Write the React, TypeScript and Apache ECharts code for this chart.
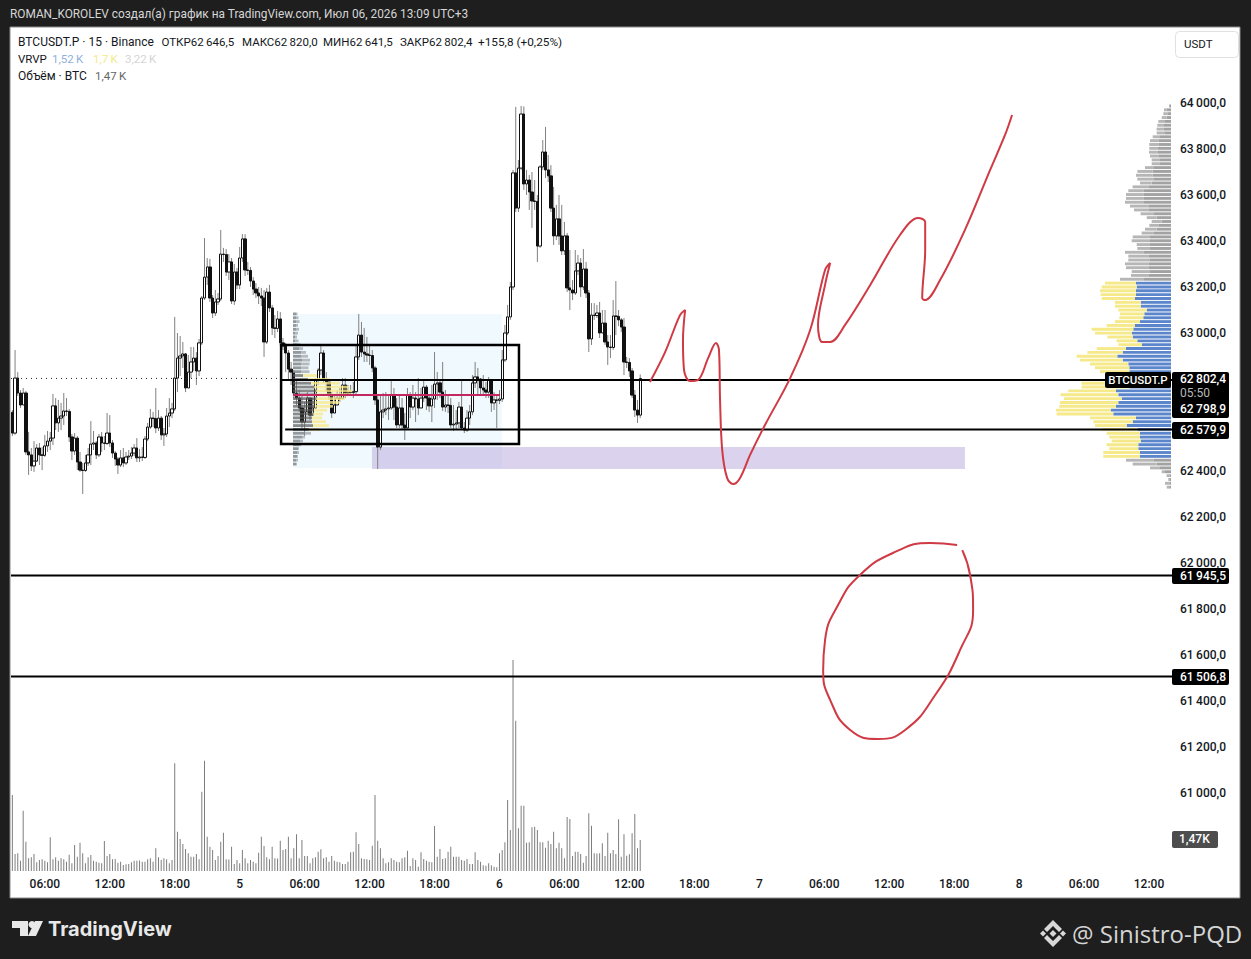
import React, { useEffect, useRef } from "react";
import * as echarts from "echarts";

const firstOpen = 62655;
const closes = [62565,62804,62739,62687,62739,62483,62470,62422,62443,62500,62470,62468,62509,62530,62543,62683,62609,62630,62639,62661,62659,62548,62487,62543,62439,62404,62402,62435,62470,62517,62522,62470,62548,62522,62520,62565,62522,62478,62452,62426,62457,62435,62461,62465,62478,62500,62457,62461,62459,62539,62591,62630,62628,62587,62630,62557,62561,62639,62652,62670,62804,62891,62900,62909,62761,62830,62874,62891,62835,62957,63152,63243,63287,63152,63087,63135,63148,63343,63341,63265,63309,63139,63265,63209,63326,63409,63274,63272,63226,63191,63174,63161,63152,62961,63178,63109,63022,63020,63061,62957,62943,62913,62843,62830,62739,62717,62674,62613,62657,62717,62643,62674,62796,62839,62913,62796,62787,62730,62652,62687,62717,62715,62774,62739,62743,62741,62745,62896,62991,62917,62909,62904,62902,62848,62709,62504,62657,62665,62670,62674,62730,62678,62600,62674,62600,62587,62730,62678,62717,62713,62674,62717,62765,62717,62683,62713,62778,62783,62743,62678,62687,62685,62600,62604,62609,62678,62587,62578,62630,62657,62783,62809,62800,62761,62752,62743,62796,62696,62709,62707,62713,62883,63000,63070,63200,63696,63543,63717,63952,63648,63665,63613,63574,63572,63378,63722,63787,63709,63683,63543,63422,63496,63422,63357,63422,63196,63187,63174,63270,63304,63200,63278,63174,62974,63078,63076,63087,63000,63043,62961,62939,62937,63074,63072,63057,63026,62874,62872,62835,62730,62665,62643,62802.4];
const highs = [62665,62926,62830,62752,62761,62748,62570,62500,62530,62517,62522,62504,62557,62574,62570,62735,62717,62709,62696,62739,62717,62670,62561,62565,62552,62483,62435,62470,62500,62617,62574,62530,62561,62570,62552,62652,62643,62535,62487,62461,62491,62500,62483,62491,62504,62517,62543,62496,62504,62552,62609,62670,62657,62761,62665,62639,62587,62674,62717,62696,63070,63000,62987,62961,62913,62904,62939,62939,62917,62974,63161,63413,63326,63322,63165,63187,63174,63448,63370,63365,63343,63326,63300,63283,63374,63430,63430,63309,63287,63243,63217,63200,63196,63187,63196,63209,63122,63078,63096,63091,62978,62957,62926,62874,62839,62796,62752,62730,62700,62743,62709,62717,62804,62848,62943,62926,62830,62787,62743,62726,62752,62761,62804,62804,62774,62774,62787,62948,63083,63048,63022,62983,62948,62926,62857,62730,62730,62739,62743,62726,62791,62761,62717,62730,62717,62652,62761,62743,62774,62743,62804,62761,62796,62774,62730,62774,62917,62830,62796,62874,62752,62730,62717,62687,62665,62700,62796,62613,62665,62687,62817,62874,62848,62804,62817,62787,62809,62796,62743,62730,62752,62926,63035,63122,63222,63709,63983,63752,63987,63985,63709,63687,63700,63665,63600,63730,63839,63896,63774,63730,63635,63557,63600,63557,63483,63435,63361,63230,63361,63339,63326,63365,63309,63187,63130,63130,63122,63135,63100,63100,62991,62991,63143,63226,63100,63065,63065,62896,62891,62848,62752,62709,62820];
const lows = [62552,62557,62726,62674,62709,62470,62383,62400,62396,62439,62426,62404,62461,62483,62491,62513,62578,62570,62578,62600,62639,62526,62448,62470,62404,62396,62300,62396,62422,62426,62491,62452,62461,62483,62491,62513,62504,62457,62422,62387,62417,62417,62426,62448,62452,62465,62439,62439,62443,62452,62530,62583,62591,62565,62574,62535,62509,62548,62591,62630,62661,62743,62813,62848,62743,62778,62804,62835,62774,62813,62948,63143,63209,63135,63065,63074,63122,63139,63309,63248,63230,63126,63122,63191,63191,63309,63248,63252,63200,63165,63152,63126,63117,62896,62952,63091,62991,62978,63004,62943,62926,62830,62796,62774,62717,62687,62657,62587,62552,62657,62622,62643,62709,62774,62817,62783,62743,62709,62630,62665,62687,62700,62726,62717,62726,62726,62717,62735,62883,62896,62874,62874,62861,62830,62687,62409,62491,62630,62643,62622,62665,62622,62587,62587,62578,62535,62587,62630,62665,62613,62643,62674,62700,62665,62657,62613,62674,62709,62717,62661,62657,62652,62587,62574,62578,62587,62578,62565,62570,62600,62643,62761,62730,62730,62726,62717,62717,62657,62665,62587,62691,62700,62874,62991,63057,63187,63526,63526,63709,63622,63600,63535,63457,63535,63309,63370,63709,63674,63656,63526,63383,63404,63383,63339,63339,63178,63100,63143,63165,63252,63157,63187,63152,62917,62948,63057,63065,62978,63013,62948,62861,62891,62926,62991,63030,63004,62817,62848,62809,62717,62635,62609,62630];
const volumes = [3602,806,837,490,2860,1390,600,648,806,411,521,553,490,411,1596,553,648,490,600,553,442,774,363,1232,679,1343,837,363,648,758,490,442,395,363,1422,711,806,553,569,395,442,284,316,332,411,490,488,492,442,440,553,600,442,1074,648,521,600,553,363,521,5103,1864,1517,1280,1043,837,679,677,806,553,3760,5230,1627,1153,995,521,711,1390,1817,553,551,1153,332,521,363,995,600,363,521,442,363,869,1627,1185,648,553,1153,600,598,1438,995,1043,1627,600,1074,1738,600,1469,711,709,363,600,648,916,1027,600,648,442,711,490,442,411,332,330,442,885,916,1833,1280,600,569,553,521,1201,3602,1438,1074,600,363,411,600,521,442,411,600,648,964,237,600,521,205,885,569,490,442,411,2133,679,1043,569,600,916,1153,679,680,677,521,490,569,332,330,885,521,442,269,253,363,269,205,174,837,995,1359,3365,1943,10001,7126,2022,3097,3097,1343,1359,2070,2101,1943,1359,1357,1106,1438,1280,1864,1074,1343,1074,600,2560,2465,711,916,918,806,395,711,2733,2149,837,835,839,1311,711,1817,837,995,806,2449,679,1738,727,790,1785,2702,1074,1470];

const timeLabels = ["06:00","12:00","18:00","5","06:00","12:00","18:00","6","06:00","12:00","18:00","7","06:00","12:00","18:00","8","06:00","12:00"];
const priceTicks = [61000,61200,61400,61600,61800,62000,62200,62400,63000,63200,63400,63600,63800,64000];

const profileTop = 63987;
const profileStep = 16.74;
const profileUp = [10,43,37,43,60,77,77,60,110,127,127,137,137,127,110,110,170,183,183,177,193,227,277,277,277,270,227,227,177,143,93,127,143,177,210,210,210,210,277,227,210,227,227,210,227,277,350,343,350,350,360,303,303,243,267,277,310,360,377,393,383,337,293,450,483,537,483,427,417,417,410,410,417,417,550,527,493,527,550,603,577,350,383,443,337,310,310,303,327,327,310,310,177,143,110,60,17,10,17,10];
const profileDown = [10,27,40,50,67,60,67,83,73,83,90,80,83,83,83,83,90,153,167,160,117,157,150,173,173,190,183,143,127,100,100,90,117,117,173,183,133,127,183,200,217,233,223,183,173,233,310,350,360,353,333,257,257,283,243,240,250,283,417,367,253,207,233,293,353,407,427,383,343,293,250,250,477,477,477,577,577,583,567,547,567,460,393,317,357,333,307,290,317,290,367,367,273,240,100,33,27,17,43,33];
const profileVaFirst = 46;
const profileVaLast = 91;

const rangeTop = 63083;
const rangeStep = 16.74;
const rangeUp = [30,30,35,30,30,25,20,25,45,60,80,80,90,85,80,85,100,150,180,210,230,230,230,220,220,210,200,190,190,200,160,120,90,70,60,50,40,40,30,30];
const rangeDown = [15,25,30,20,30,25,20,30,30,40,50,70,80,80,75,80,140,220,290,350,360,360,290,250,180,130,100,100,140,160,100,60,30,30,20,10,20,10,20,10];
const rangeVaFirst = 16;
const rangeVaLast = 30;

const curveUp = [[235.6,62787],[241.2,62917],[246.7,63078],[248.6,63100],[247.8,62970],[248.2,62839],[250.4,62791],[253.4,62796],[257.1,62891],[260,62957],[261.1,62926],[261.5,62709],[262.3,62491],[264.1,62370],[266.3,62343],[268.9,62370],[272.6,62470],[278.1,62600],[287.4,62804],[294.8,63013],[300.3,63274],[302.2,63304],[300.3,63209],[297.7,63035],[299.2,62961],[302.2,62961],[307.7,63035],[317,63209],[328,63426],[334.7,63500],[337.3,63483],[337.3,63361],[336.2,63152],[337.3,63143],[342.8,63230],[352,63448],[361.3,63709],[366.8,63861],[369.4,63948]];
const curveCircle = [[349.1,62078],[339.1,62087],[326.2,62048],[313.2,61948],[305.1,61817],[300.3,61665],[299.6,61535],[302.2,61404],[309.6,61274],[319.9,61235],[329.9,61274],[341,61426],[350.2,61622],[355,61796],[353.9,61948],[351,62056]];

const levelPrices = [62796,62579.9,61945.5,61506.8];
const levelStarts = [99.3,100.8,-0.5,-0.5];
const barCount = 429;

const fmt = (v: number) => {
  const [a, b] = v.toFixed(1).split(".");
  return a.slice(0, -3) + "\u2009" + a.slice(-3) + "," + b;
};

const categories: string[] = new Array(barCount).fill("");
timeLabels.forEach((t, i) => { categories[12 + 24 * i] = t; });

const opens = closes.map((_, i) => (i === 0 ? firstOpen : closes[i - 1]));
const candleData = closes.map((c, i) => {
  const lo = Math.min(opens[i], c), hi = Math.max(opens[i], c);
  return [opens[i], c, lo, hi];
});
const wickData = closes.map((c, i) => [i, Math.min(lows[i], opens[i], c), Math.max(highs[i], opens[i], c)]);

const FONT = "Roboto, 'Noto Sans', sans-serif";
const txt = (text: string, x: number, y: number, fill: string, size = 12, extra: any = {}) => ({
  type: "text", x, y, z: 100,
  style: { text, fill, font: `${extra.weight || 400} ${size}px ${extra.family || FONT}`, textAlign: extra.align || "left", textVerticalAlign: "middle" },
});
const box = (x: number, y: number, w: number, h: number, fill: string, r = 2, stroke?: string) => ({
  type: "rect", z: 99, shape: { x, y, width: w, height: h, r }, style: stroke ? { fill, stroke, lineWidth: 1 } : { fill },
});
const poly = (points: number[][], fill: string) => ({ type: "polygon", z: 100, shape: { points }, style: { fill } });

const GRID = { left: 11, top: 27, width: 1161, height: 846 };
const YMIN = 60652.2, YMAX = 64330.4;
const hiddenY = (gridIndex: number) => ({ type: "value", gridIndex, min: YMIN, max: YMAX, show: false, scale: true });

export default function App() {
  const ref = useRef<HTMLDivElement>(null);
  useEffect(() => {
    document.body.style.margin = "0";
    const chart = echarts.init(ref.current!, null, { renderer: "svg" });

    const profileItem = (up: string, down: string, vaUp: string, vaDown: string, vaFirst: number, vaLast: number, h: number) =>
      (params: any, api: any) => {
        const i = params.dataIndex;
        const price = api.value(0), u = api.value(1), d = api.value(2);
        const p0 = api.coord([0, price]);
        const p1 = api.coord([u, price]);
        const p2 = api.coord([u + d, price]);
        const inVa = i >= vaFirst && i <= vaLast;
        const y = p0[1] - h / 2;
        return {
          type: "group",
          children: [
            { type: "rect", shape: { x: Math.min(p0[0], p1[0]), y, width: Math.abs(p1[0] - p0[0]), height: h }, style: { fill: inVa ? vaUp : up } },
            { type: "rect", shape: { x: Math.min(p1[0], p2[0]), y, width: Math.abs(p2[0] - p1[0]), height: h }, style: { fill: inVa ? vaDown : down } },
          ],
        };
      };

    const rectSeries = (name: string, rows: number[][], fill: string, z: number, stroke?: string, lw = 0) => ({
      type: "custom", name, xAxisIndex: 2, yAxisIndex: 2, z, silent: true, clip: false, data: rows,
      renderItem: (_: any, api: any) => {
        const a = api.coord([api.value(0), api.value(1)]);
        const b = api.coord([api.value(2), api.value(3)]);
        return { type: "rect", shape: { x: a[0], y: a[1], width: b[0] - a[0], height: b[1] - a[1] }, style: { fill, stroke, lineWidth: lw } };
      },
    });

    chart.setOption({
      animation: false,
      backgroundColor: "#1e1e1e",
      grid: [
        { ...GRID },
        { left: 11, top: 621, width: 1161, height: 250 },
        { ...GRID },
        { left: 10, top: 27, width: 1161, height: 846 },
        { left: 293, top: 27, width: 879, height: 846 },
      ],
      xAxis: [
        { type: "category", gridIndex: 0, data: categories, boundaryGap: true, axisLine: { show: false }, axisTick: { show: false }, splitLine: { show: false },
          axisLabel: { interval: (_: number, v: string) => v !== "", color: "#131722", fontFamily: FONT, fontSize: 12, fontWeight: 500, margin: 5, hideOverlap: false } },
        { type: "category", gridIndex: 1, data: categories, boundaryGap: true, show: false },
        { type: "value", gridIndex: 2, min: -0.5, max: 428.5, show: false },
        { type: "value", gridIndex: 3, min: 0, max: 11610, inverse: true, show: false },
        { type: "value", gridIndex: 4, min: 0, max: 8790, show: false },
      ],
      yAxis: [
        { type: "value", gridIndex: 0, position: "right", min: YMIN, max: YMAX, axisLine: { show: false }, axisTick: { show: false }, splitLine: { show: false },
          axisLabel: { customValues: priceTicks, color: "#131722", fontFamily: FONT, fontSize: 12, fontWeight: 500, margin: 8, formatter: (v: number) => fmt(v) } },
        { type: "value", gridIndex: 1, min: 0, max: 11850, show: false },
        hiddenY(2), hiddenY(3), hiddenY(4),
      ],
      graphic: {
        elements: [
          { type: "rect", z: -10, shape: { x: 10, y: 27, width: 1230, height: 871 }, style: { fill: "#ffffff", stroke: "#8a8a8a", lineWidth: 1 } },
          txt("ROMAN_KOROLEV создал(а) график на TradingView.com, Июл 06, 2026 13:09 UTC+3", 10, 14, "#d6d6d6", 11.85),
          txt("BTCUSDT.P · 15 · Binance", 18, 42, "#131722", 12),
          txt("ОТКР62\u2009646,5", 161.5, 42, "#131722", 11.5),
          txt("МАКС62\u2009820,0", 242, 42, "#131722", 11.5),
          txt("МИН62\u2009641,5", 323, 42, "#131722", 11.5),
          txt("ЗАКР62\u2009802,4", 400, 42, "#131722", 11.5),
          txt("+155,8 (+0,25%)", 478, 42, "#131722", 11.8),
          txt("VRVP", 18, 59, "#131722", 11.5),
          txt("1,52\u2009K", 52, 59, "#8fb0dc", 11.5),
          txt("1,7\u2009K", 93, 59, "#f4e98a", 11.5),
          txt("3,22\u2009K", 125, 59, "#d4d4d4", 11.5),
          txt("Объём · BTC", 18, 76, "#131722", 12),
          txt("1,47\u2009K", 95, 76, "#666666", 11.5),
          box(1175.5, 31.5, 63, 26, "#ffffff", 4, "#e0e0e0"),
          txt("USDT", 1184, 44, "#131722", 11.5),

          box(1105, 372, 66, 16, "#000000"),
          txt("BTCUSDT.P", 1138, 380, "#ffffff", 11.5, { align: "center", weight: 500 }),
          box(1172, 372, 57, 46, "#000000"),
          txt(fmt(62802.4), 1180, 379, "#ffffff", 12, { weight: 500 }),
          txt("05:50", 1180, 393, "#b8b8b8", 12),
          txt(fmt(62798.9), 1180, 409, "#ffffff", 12, { weight: 500 }),
          box(1172, 422, 57, 17, "#000000"),
          txt(fmt(62579.9), 1180, 430, "#ffffff", 12, { weight: 500 }),
          box(1172, 568, 57, 16, "#000000"),
          txt(fmt(61945.5), 1180, 576, "#ffffff", 12, { weight: 500 }),
          box(1172, 669, 57, 16, "#000000"),
          txt(fmt(61506.8), 1180, 677, "#ffffff", 12, { weight: 500 }),
          box(1172, 831, 46, 17, "#4d4d4d"),
          txt("1,47K", 1179, 839, "#ffffff", 12, { weight: 500 }),

          poly([[12, 921], [28, 921], [28, 936], [20, 936], [20, 928], [12, 928]], "#e8e8e8"),
          { type: "circle", z: 100, shape: { cx: 32, cy: 924.5, r: 3.5 }, style: { fill: "#e8e8e8" } },
          poly([[35, 921], [43, 921], [36, 936], [28, 936]], "#e8e8e8"),
          txt("TradingView", 48, 929, "#e8e8e8", 20, { weight: 700, family: "Inter, Roboto, sans-serif" }),

          poly([[1053, 920], [1062, 929], [1059, 932], [1053, 926], [1047, 932], [1044, 929]], "#d8d8d8"),
          poly([[1053, 947], [1062, 938], [1059, 935], [1053, 941], [1047, 935], [1044, 938]], "#d8d8d8"),
          poly([[1053, 930], [1056.5, 933.5], [1053, 937], [1049.5, 933.5]], "#d8d8d8"),
          poly([[1043, 930.5], [1046, 933.5], [1043, 936.5], [1040, 933.5]], "#d8d8d8"),
          poly([[1063, 930.5], [1066, 933.5], [1063, 936.5], [1060, 933.5]], "#d8d8d8"),
          txt("@ Sinistro-PQD", 1072, 933, "#d4d4d4", 24, { family: "'Open Sans', 'Noto Sans', sans-serif" }),
        ],
      },
      series: [
        rectSeries("range", [[103.7, 63083, 180.9, 62413]], "#f0f9fd", 1),
        rectSeries("zone", [[132.9, 62504, 352, 62409]], "rgba(176,156,216,0.45)", 2),
        {
          type: "custom", name: "wicks", xAxisIndex: 0, yAxisIndex: 0, z: 3, silent: true, data: wickData,
          renderItem: (_: any, api: any) => {
            const a = api.coord([api.value(0), api.value(1)]);
            const b = api.coord([api.value(0), api.value(2)]);
            return { type: "line", shape: { x1: a[0], y1: a[1], x2: b[0], y2: b[1] }, style: { stroke: "#808080", lineWidth: 1 } };
          },
        },
        {
          type: "candlestick", name: "BTCUSDT.P", xAxisIndex: 0, yAxisIndex: 0, z: 4, barWidth: 2.8, data: candleData, silent: true,
          itemStyle: { color: "#ffffff", color0: "#111111", borderColor: "#111111", borderColor0: "#111111", borderWidth: 1 },
        },
        {
          type: "bar", name: "Объём", xAxisIndex: 1, yAxisIndex: 1, z: 3, barWidth: 1, silent: true,
          itemStyle: { color: "#7d7d7d" }, data: volumes,
        },
        {
          type: "custom", name: "VRVP", xAxisIndex: 3, yAxisIndex: 3, z: 3, silent: true,
          data: profileUp.map((u, i) => [profileTop - i * profileStep, u, profileDown[i]]),
          renderItem: profileItem("#a2a2a2", "#b6b6b6", "#5c86cc", "#f6e98a", profileVaFirst, profileVaLast, 2.9),
        },
        {
          type: "custom", name: "VRVP range", xAxisIndex: 4, yAxisIndex: 4, z: 5, silent: true,
          data: rangeUp.map((u, i) => [rangeTop - i * rangeStep, u, rangeDown[i]]),
          renderItem: profileItem("rgba(130,135,140,0.85)", "rgba(170,175,180,0.85)", "rgba(90,90,90,0.7)", "rgba(247,234,140,0.8)", rangeVaFirst, rangeVaLast, 2.8),
        },
        rectSeries("box", [[99.3, 62948, 187.2, 62517]], "transparent", 6, "#000000", 2.5),
        { type: "line", name: "last", xAxisIndex: 2, yAxisIndex: 2, z: 6, silent: true, symbol: "none", data: [[-0.5, 62802.4], [99.3, 62802.4]], lineStyle: { color: "#222222", width: 1, type: [1, 4] } },
        { type: "line", name: "poc", xAxisIndex: 2, yAxisIndex: 2, z: 6, silent: true, symbol: "none", data: [[103.7, 62730], [180.2, 62730]], lineStyle: { color: "#c2275f", width: 2 } },
        ...levelPrices.map((p, i) => ({
          type: "line", name: "level" + i, xAxisIndex: 2, yAxisIndex: 2, z: 6, silent: true, symbol: "none",
          data: [[levelStarts[i], p], [428.5, p]], lineStyle: { color: "#000000", width: 2 },
        })),
        { type: "line", name: "path", xAxisIndex: 2, yAxisIndex: 2, z: 7, silent: true, symbol: "none", smooth: 0.35, data: curveUp, lineStyle: { color: "#cf3a44", width: 2 } },
        { type: "line", name: "circle", xAxisIndex: 2, yAxisIndex: 2, z: 7, silent: true, symbol: "none", smooth: 0.5, data: curveCircle, lineStyle: { color: "#cf3a44", width: 2 } },
      ],
    });
    return () => chart.dispose();
  }, []);
  return <div ref={ref} style={{ width: 1251, height: 959 }} />;
}
